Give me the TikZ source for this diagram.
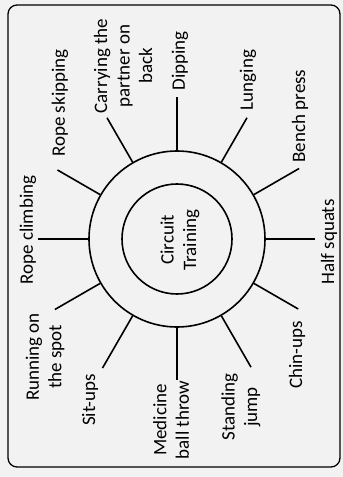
\documentclass[tikz,border=0pt]{standalone}
\usepackage{fontspec}
\setmainfont{Carlito}
\usetikzlibrary{positioning}

\begin{document}
\begin{tikzpicture}[
  x=1pt, y=1pt,
  ring/.style={circle, draw, line width=1.6pt, inner sep=0pt},
  lbl/.style={rotate=90, align=center, inner sep=0pt,
              font=\fontsize{19}{22.5}\selectfont},
  spoke/.style={line width=1.6pt},
]
% Fondo y marco
\useasboundingbox[fill=black!5] (-177,-238) rectangle (166,239);
\draw[line width=1.3pt, rounded corners=9pt] (-169,-228) rectangle (163,234);
% Circulos
\node[ring, minimum size=176pt] (outer) at (0,0) {};
\node[ring, minimum size=110pt] (hub) at (0,0) {};
\node[lbl] (title) at (3,-1) {Circuit\\Training};
% Radios
\foreach \a/\r/\n in {180/139/climb, 150/138/skip, 120/140/carry,
                      90/142/dip, 60/140/lunge, 30/141/bench,
                      0/138/squat, -30/140/chin, -60/148/jump,
                      -90/141/ball, -120/149/situp, -150/141/run} {
  \coordinate (tip-\n) at (\a:\r);
  \draw[spoke] (outer.\a) -- (tip-\n);
}
% Ejercicios
\node[lbl] (climb) at (-149,9)    {Rope climbing};
\node[lbl] (skip)  at (-117,136)  {Rope skipping};
\node[lbl] (carry) at (-54,173)   {Carrying the\\partner on\\back};
\node[lbl] (dip)   at (3,178)     {Dipping};
\node[lbl] (lunge) at (71,159)    {Lunging};
\node[lbl] (bench) at (123,123)   {Bench press};
\node[lbl] (squat) at (152,-3)    {Half squats};
\node[lbl] (chin)  at (120,-116)  {Chin-ups};
\node[lbl] (jump)  at (64,-168)   {Standing\\jump};
\node[lbl] (ball)  at (-6,-181)   {Medicine\\ball throw};
\node[lbl] (situp) at (-87,-161)  {Sit-ups};
\node[lbl] (run)   at (-132,-118) {Running on\\the spot};
\end{tikzpicture}
\end{document}
